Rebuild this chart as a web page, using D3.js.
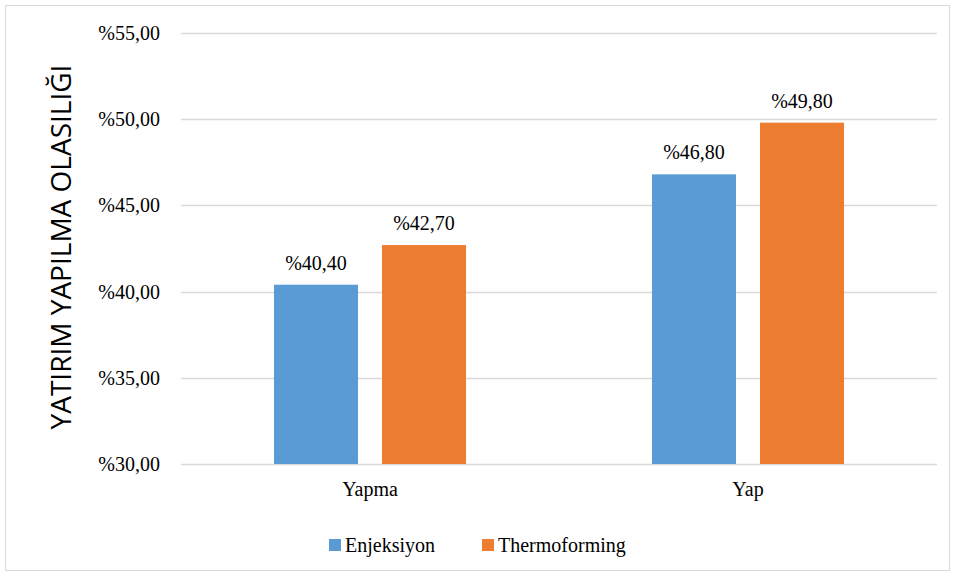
<!DOCTYPE html>
<html>
<head>
<meta charset="utf-8">
<script src="https://cdn.jsdelivr.net/npm/d3@7"></script>
<style>
  html, body { margin: 0; padding: 0; background: #fff; }
  svg { display: block; }
</style>
</head>
<body>
<svg id="chart" width="955" height="576"></svg>
<script>
// Chart data
const categories = ["Yapma", "Yap"];
const seriesNames = ["Enjeksiyon", "Thermoforming"];
const enjeksiyon = [40.4, 46.8];
const thermoforming = [42.7, 49.8];
const yTicks = [30, 35, 40, 45, 50, 55];
const colors = ["#5B9BD5", "#ED7D31"];
const yTitle = "YATIRIM YAPILMA OLASILIĞI";

const series = [enjeksiyon, thermoforming];
const fmt = v => "%" + v.toFixed(2).replace(".", ",");
const SERIF = "'Liberation Serif', 'DejaVu Serif', 'FreeSerif', 'Noto Serif', Times, serif";

const svg = d3.select("#chart");
const W = 955, H = 576;
const m = { left: 181, right: 18, top: 33, bottom: 112 };
const pw = W - m.left - m.right, ph = H - m.top - m.bottom;

// chart area border
svg.append("rect").attr("x", 5.5).attr("y", 5.5).attr("width", W - 11).attr("height", H - 11)
  .attr("fill", "#fff").attr("stroke", "#D9D9D9").attr("stroke-width", 1);

const g = svg.append("g").attr("transform", `translate(${m.left},${m.top})`);

const y = d3.scaleLinear().domain([30, 55]).range([ph, 0]);
const x0 = d3.scaleBand().domain(categories).range([0, pw]).paddingInner(0).paddingOuter(0);
const x1 = d3.scaleBand().domain(seriesNames).range([0, x0.bandwidth()]).paddingInner(0.222).paddingOuter(0.861);

// gridlines
g.append("g").selectAll("line").data(yTicks).join("line")
  .attr("x1", 0).attr("x2", pw)
  .attr("y1", d => Math.round(y(d)) + 0.5).attr("y2", d => Math.round(y(d)) + 0.5)
  .attr("stroke", "#D9D9D9").attr("stroke-width", 1.3);

// y axis tick labels
const yAxis = d3.axisLeft(y).tickValues(yTicks).tickFormat(fmt).tickSize(0).tickPadding(21);
const ya = g.append("g").call(yAxis);
ya.select(".domain").remove();
ya.selectAll("text").style("font-family", SERIF).style("font-size", "20px").attr("fill", "#000");

// bars and value labels
const groups = g.selectAll("g.cat").data(categories).join("g").attr("class", "cat")
  .attr("transform", d => `translate(${x0(d)},0)`);

groups.each(function(cat, ci) {
  const sel = d3.select(this);
  seriesNames.forEach((s, si) => {
    const v = series[si][ci];
    sel.append("rect")
      .attr("x", x1(s)).attr("width", x1.bandwidth())
      .attr("y", y(v)).attr("height", y(30) - y(v))
      .attr("fill", colors[si]);
    sel.append("text")
      .attr("x", x1(s) + x1.bandwidth() / 2).attr("y", y(v) - 15)
      .attr("text-anchor", "middle")
      .style("font-family", SERIF).style("font-size", "20px").attr("fill", "#000")
      .text(fmt(v));
  });
});

// category axis
const xAxis = d3.axisBottom(x0).tickSize(0).tickPadding(18);
const xa = g.append("g").attr("transform", `translate(0,${ph})`).call(xAxis);
xa.select(".domain").remove();
xa.selectAll("text").style("font-family", SERIF).style("font-size", "20px").attr("fill", "#000");

// y axis title
svg.append("text")
  .attr("transform", `translate(71,${247}) rotate(-90)`)
  .attr("text-anchor", "middle")
  .style("font-family", "'Open Sans', 'Liberation Sans', sans-serif")
  .style("font-size", "28px").attr("fill", "#000")
  .text(yTitle);

// legend
const legendX = [329, 482];
const legend = svg.append("g");
seriesNames.forEach((s, i) => {
  legend.append("rect").attr("x", legendX[i]).attr("y", 539).attr("width", 12).attr("height", 12)
    .attr("fill", colors[i]);
  legend.append("text").attr("x", legendX[i] + 16).attr("y", 552)
    .style("font-family", SERIF).style("font-size", "20px").attr("fill", "#000").text(s);
});
</script>
</body>
</html>
